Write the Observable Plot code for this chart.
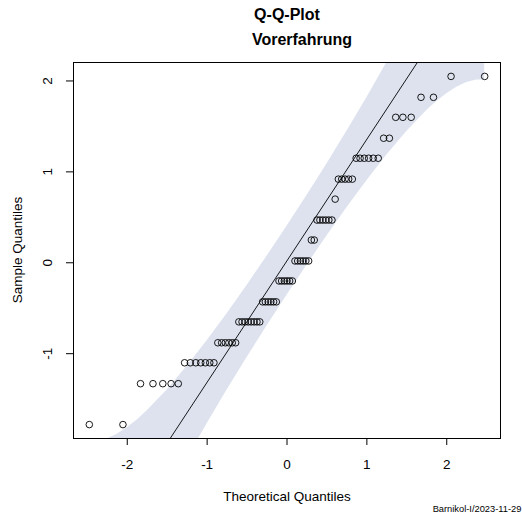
<!DOCTYPE html>
<html>
<head>
<meta charset="utf-8">
<script src="https://cdn.jsdelivr.net/npm/d3@7"></script>
<script src="https://cdn.jsdelivr.net/npm/@observablehq/plot@0.6"></script>
<style>
  html, body { margin: 0; padding: 0; background: #fff; }
  #wrap { position: relative; width: 522px; height: 513px; font-family: "Liberation Sans", Arial, sans-serif; color: #000; }
  .t { position: absolute; white-space: nowrap; transform: translate(-50%, -50%); }
</style>
</head>
<body>
<div id="wrap">
  <div class="t" style="left:287px; top:15px; font-size:16px; font-weight:bold;">Q-Q-Plot</div>
  <div class="t" style="left:302px; top:40px; font-size:16px; font-weight:bold;">Vorerfahrung</div>
  <div class="t" style="left:287px; top:496px; font-size:13.5px;">Theoretical Quantiles</div>
  <div class="t" style="left:17px; top:250px; font-size:13.5px; transform: translate(-50%, -50%) rotate(-90deg);">Sample Quantiles</div>
  <div class="t" style="left:477px; top:509px; font-size:9.3px;">Barnikol-I/2023-11-29</div>
</div>
<script>
// Theoretical quantiles (x) of the 75 points
const theoretical = [
  -2.475, -2.054, -1.834, -1.678, -1.555, -1.451, -1.361, -1.282, -1.210, -1.142,
  -1.080, -1.022, -0.967, -0.915, -0.866, -0.818, -0.772, -0.728, -0.685, -0.643,
  -0.603, -0.563, -0.524, -0.486, -0.449, -0.412, -0.376, -0.341, -0.305, -0.271,
  -0.236, -0.202, -0.168, -0.134, -0.100, -0.067, -0.033, 0.000, 0.033, 0.067,
  0.100, 0.134, 0.168, 0.202, 0.236, 0.271, 0.305, 0.341, 0.376, 0.412,
  0.449, 0.486, 0.524, 0.563, 0.603, 0.643, 0.685, 0.728, 0.772, 0.818,
  0.866, 0.915, 0.967, 1.022, 1.080, 1.142, 1.210, 1.282, 1.361, 1.451,
  1.555, 1.678, 1.834, 2.054, 2.475
];
// Sample quantiles (y) of the 75 points
const sample = [
  -1.78, -1.78, -1.33, -1.33, -1.33, -1.33, -1.33, -1.10, -1.10, -1.10,
  -1.10, -1.10, -1.10, -1.10, -0.88, -0.88, -0.88, -0.88, -0.88, -0.88,
  -0.65, -0.65, -0.65, -0.65, -0.65, -0.65, -0.65, -0.65, -0.43, -0.43,
  -0.43, -0.43, -0.43, -0.43, -0.20, -0.20, -0.20, -0.20, -0.20, -0.20,
  0.02, 0.02, 0.02, 0.02, 0.02, 0.02, 0.25, 0.25, 0.47, 0.47,
  0.47, 0.47, 0.47, 0.47, 0.70, 0.92, 0.92, 0.92, 0.92, 0.92,
  1.15, 1.15, 1.15, 1.15, 1.15, 1.15, 1.37, 1.37, 1.60, 1.60,
  1.60, 1.82, 1.82, 2.05, 2.05
];
// Reference line end points
const lineX = [-2.7, 2.7];
const lineY = [-3.586, 3.631];
// Confidence envelope
const bandX = [-2.475, -2.375, -2.25, -2.125, -2.0, -1.875, -1.75, -1.5, -1.25, -1.0, -0.75, -0.5, -0.25, 0,
  0.25, 0.5, 0.75, 1.0, 1.25, 1.5, 1.75, 1.875, 2.0, 2.125, 2.25, 2.375, 2.475];
const bandLower = [-4.6055, -4.3388, -4.0320, -3.7493, -3.4862, -3.2385, -3.0042, -2.5656, -2.1574, -1.7709, -1.4006, -1.0427, -0.6952, -0.3566,
  -0.0268, 0.2939, 0.6044, 0.9023, 1.1842, 1.4442, 1.6740, 1.7737, 1.8602, 1.9313, 1.9828, 2.0100, 2.0107];
const bandUpper = [-1.9657, -1.9650, -1.9378, -1.8863, -1.8152, -1.7287, -1.6290, -1.3992, -1.1392, -0.8573, -0.5594, -0.2489, 0.0718, 0.4016,
  0.7402, 1.0877, 1.4456, 1.8159, 2.2024, 2.6106, 3.0492, 3.2835, 3.5312, 3.7943, 4.0770, 4.3838, 4.6505];
const xTicks = [-2, -1, 0, 1, 2];
const yTicks = [-1, 0, 1, 2];
const xTickLabels = ["-2", "-1", "0", "1", "2"];
const yTickLabels = ["-1", "0", "1", "2"];

const points = theoretical.map((x, i) => ({x, y: sample[i]}));
const band = bandX.map((x, i) => ({x, lo: bandLower[i], hi: bandUpper[i]}));
const line = lineX.map((x, i) => ({x, y: lineY[i]}));

const chart = Plot.plot({
  width: 522,
  height: 513,
  marginLeft: 73,
  marginRight: 22,
  marginTop: 62,
  marginBottom: 75,
  style: {fontFamily: "Liberation Sans, Arial, sans-serif", fontSize: "13.5px", background: "transparent", overflow: "visible"},
  x: {domain: [-2.673, 2.673]},
  y: {domain: [-1.933, 2.203]},
  marks: [
    Plot.areaY(band, {x: "x", y1: "lo", y2: "hi", fill: "#dde2ee", clip: true}),
    Plot.line(line, {x: "x", y: "y", stroke: "#000", strokeWidth: 0.9, clip: true}),
    Plot.dot(points, {x: "x", y: "y", r: 3.3, stroke: "#000", strokeWidth: 0.9, fill: "none"}),
    Plot.frame({stroke: "#000", strokeWidth: 1}),
    Plot.axisX(xTicks, {tickSize: 7, tickPadding: 14, fontSize: 13.5, label: null, stroke: "#000", color: "#000",
      tickFormat: d => xTickLabels[xTicks.indexOf(d)]}),
    Plot.axisY(yTicks, {tickSize: 7, label: null, stroke: "#000", tickFormat: () => ""}),
    Plot.text(yTicks, {y: d => d, text: (d, i) => yTickLabels[i], frameAnchor: "left", dx: -26,
      rotate: -90, textAnchor: "middle", fontSize: 13.5, fill: "#000"})
  ]
});
chart.style.position = "absolute";
chart.style.left = "0px";
chart.style.top = "0px";
document.getElementById("wrap").prepend(chart);
</script>
</body>
</html>
